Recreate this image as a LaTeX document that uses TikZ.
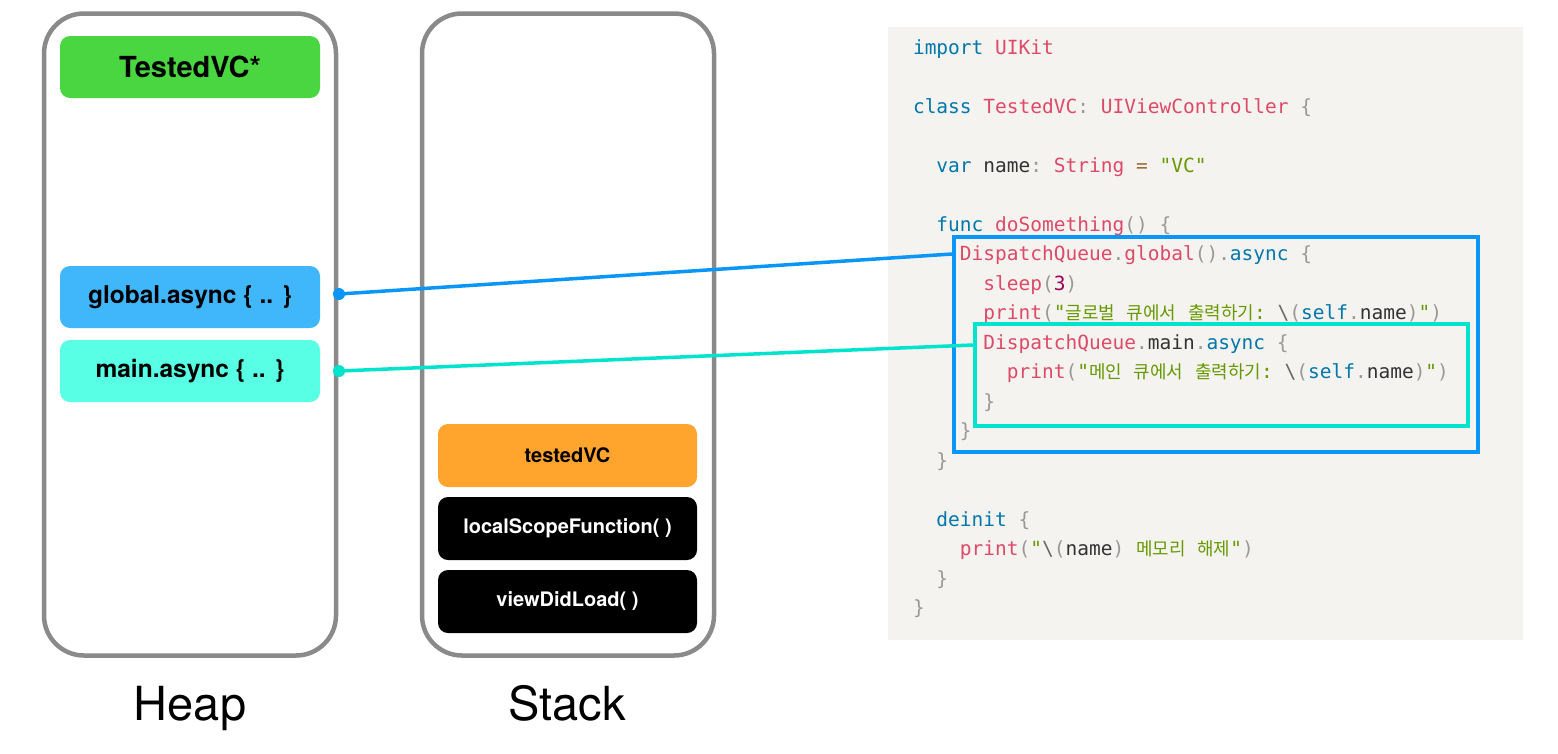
\documentclass[tikz,border=0pt]{standalone}
\usepackage{fontspec}
\setmainfont{TeX Gyre Heros}
\setmonofont{DejaVu Sans Mono}
\newfontfamily\kr[Scale=0.92]{Noto Sans CJK KR}
\definecolor{kwc}{HTML}{0077AA}
\definecolor{fnc}{HTML}{DD4A68}
\definecolor{stc}{HTML}{669900}
\definecolor{puc}{HTML}{999999}
\definecolor{opc}{HTML}{9A6E3A}
\definecolor{nmc}{HTML}{990055}
\definecolor{txc}{HTML}{333333}
\definecolor{codebg}{HTML}{F5F3F0}
\definecolor{framegray}{HTML}{8A8A8A}
\definecolor{vcgreen}{HTML}{4AD640}
\definecolor{globalblue}{HTML}{40B6FB}
\definecolor{maincyan}{HTML}{58FFE4}
\definecolor{vcorange}{HTML}{FFA52E}
\definecolor{linkblue}{HTML}{0A96F7}
\definecolor{linkteal}{HTML}{00E3CC}
\newcommand\kw[1]{\textcolor{kwc}{#1}}
\newcommand\fn[1]{\textcolor{fnc}{#1}}
\newcommand\st[1]{\textcolor{stc}{#1}}
\newcommand\pu[1]{\textcolor{puc}{#1}}
\newcommand\op[1]{\textcolor{opc}{#1}}
\newcommand\nm[1]{\textcolor{nmc}{#1}}
\newcommand\bsl{\textcolor{black!60}{\textbackslash}}
\tikzset{
  container/.style={draw=framegray, line width=4.5pt, rounded corners=40pt, fill=white,
    minimum width=292pt, minimum height=642pt, inner sep=0pt},
  membox/.style={rounded corners=10pt, minimum width=260pt, minimum height=62pt,
    inner sep=0pt, font=\bfseries\fontsize{24.5}{28}\selectfont},
  stackbox/.style={membox, minimum width=259pt, minimum height=63pt,
    font=\bfseries\fontsize{20}{24}\selectfont},
  codeline/.style={anchor=base west, inner sep=0pt, outer sep=0pt, text=txc,
    font=\ttfamily\fontsize{19.5}{22}\selectfont},
  biglabel/.style={anchor=base, inner sep=0pt, font=\fontsize{47}{52}\selectfont},
  hilite/.style={draw, line width=3.5pt, inner sep=0pt},
  link/.style={line width=3.5pt},
  dot/.style={circle, inner sep=0pt, minimum size=12pt}
}
\begin{document}
\begin{tikzpicture}[x=1pt,y=-1pt]
\useasboundingbox (0,0) rectangle (1558,753);
% containers
\node[container] (heap) at (190,334.5) {};
\node[container] (stack) at (568,334.5) {};
% heap items
\node[membox, fill=vcgreen, font=\bfseries\fontsize{29}{32}\selectfont] (tvc) at (190,67) {TestedVC*};
\node[membox, fill=globalblue] (gasync) at (190,297) {global.async \{ .. \}};
\node[membox, fill=maincyan] (masync) at (190,371) {main.async \{ .. \}};
% stack items
\node[stackbox, fill=vcorange] (tvcref) at (567.5,455.5) {testedVC};
\node[stackbox, fill=black, text=white] (lsf) at (567.5,528.5) {localScopeFunction( )};
\node[stackbox, fill=black, text=white] (vdl) at (567.5,601.5) {viewDidLoad( )};
% labels
\node[biglabel] (heaplbl) at (190,720) {Heap};
\node[biglabel] (stacklbl) at (567,720) {Stack};
% code panel
\node[fill=codebg, minimum width=635pt, minimum height=613pt, inner sep=0pt] (codebgnode) at (1205.5,333.5) {};
\def\cw{11.74}
\node[codeline] (l0) at (913,54) {\kw{import} \fn{UIKit}};
\node[codeline] (l2) at (913,113) {\kw{class} \fn{TestedVC}\pu{:} \fn{UIViewController} \pu{\{}};
\node[codeline] (l4) at (913+2*\cw,172) {\kw{var} name\pu{:} \fn{String} \op{=} \st{"VC"}};
\node[codeline] (l6) at (913+2*\cw,231) {\kw{func} \fn{doSomething}\pu{()} \pu{\{}};
\node[codeline] (l7) at (913+4*\cw,260.5) {\fn{DispatchQueue}\pu{.}\fn{global}\pu{().}\kw{async} \pu{\{}};
\node[codeline] (l8) at (913+6*\cw,290) {\fn{sleep}\pu{(}\nm{3}\pu{)}};
\node[codeline] (l9) at (913+6*\cw,319.5) {\fn{print}\pu{(}\st{"{\kr 글로벌} {\kr 큐에서} {\kr 출력하기}:} \bsl\pu{(}\kw{self}\pu{.}name\pu{)}\st{"}\pu{)}};
\node[codeline] (l10) at (913+6*\cw,349) {\fn{DispatchQueue}\pu{.}main\pu{.}\kw{async} \pu{\{}};
\node[codeline] (l11) at (913+8*\cw,378.5) {\fn{print}\pu{(}\st{"{\kr 메인} {\kr 큐에서} {\kr 출력하기}:} \bsl\pu{(}\kw{self}\pu{.}name\pu{)}\st{"}\pu{)}};
\node[codeline] (l12) at (913+6*\cw,408) {\pu{\}}};
\node[codeline] (l13) at (913+4*\cw,437.5) {\pu{\}}};
\node[codeline] (l14) at (913+2*\cw,467) {\pu{\}}};
\node[codeline] (l16) at (913+2*\cw,526) {\kw{deinit} \pu{\{}};
\node[codeline] (l17) at (913+4*\cw,555.5) {\fn{print}\pu{(}\st{"}\bsl\pu{(}name\pu{)} \st{{\kr 메모리} {\kr 해제}"}\pu{)}};
\node[codeline] (l18) at (913+2*\cw,585) {\pu{\}}};
\node[codeline] (l19) at (913,614.5) {\pu{\}}};
% highlight frames
\node[hilite, draw=linkblue, minimum width=524pt, minimum height=215pt] (gframe) at (1216,344.5) {};
\node[hilite, draw=linkteal, minimum width=493pt, minimum height=102pt] (mframe) at (1221.5,375) {};
% connectors
\node[dot, fill=linkblue] (gdot) at (339,294) {};
\node[dot, fill=linkteal] (mdot) at (339,371) {};
\coordinate (gend) at ([yshift=90.5pt]gframe.west);
\coordinate (mend) at ([yshift=30pt]mframe.west);
\draw[link, draw=linkblue] (gdot.center) -- (gend);
\draw[link, draw=linkteal] (mdot.center) -- (mend);
\end{tikzpicture}
\end{document}
